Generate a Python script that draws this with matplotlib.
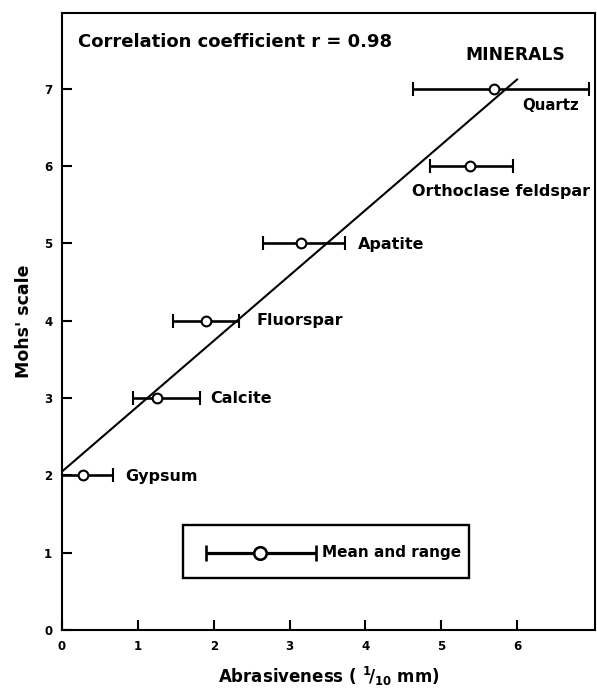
import matplotlib
matplotlib.use("Agg")
import matplotlib.pyplot as plt

# Abrasiveness (1/10 mm) against Mohs' hardness for each mineral.
minerals = ["Gypsum", "Calcite", "Fluorspar", "Apatite", "Orthoclase feldspar", "Quartz"]
mohs = [2, 3, 4, 5, 6, 7]
abr_mean = [0.28, 1.25, 1.90, 3.15, 5.38, 5.70]
abr_low = [0.0, 0.94, 1.46, 2.65, 4.85, 4.63]
abr_high = [0.67, 1.82, 2.34, 3.73, 5.95, 6.95]

# Label anchor points (x, y) in data units, beside each bar.
label_x = [0.83, 1.95, 2.57, 3.90, 4.62, 6.07]
label_y = [1.98, 3.0, 4.0, 4.99, 5.67, 6.79]
label_size = [11.5, 11.5, 11.5, 11.5, 11.5, 10.8]

# Fitted line, r = 0.98.
fit_x = [0.0, 6.0]
fit_y = [2.05, 7.12]

# Key entry.
key_mean, key_low, key_high, key_y = 2.61, 1.90, 3.35, 1.0

plt.rcParams["font.family"] = ["DejaVu Sans"]
plt.rcParams["mathtext.default"] = "bf"

fig = plt.figure(figsize=(5.97, 6.89), dpi=100)
ax = fig.add_axes([0.1039, 0.0856, 0.893, 0.8955])

ax.plot(fit_x, fit_y, color="black", lw=1.5, zorder=2)

xerr = [[m - lo for m, lo in zip(abr_mean, abr_low)],
        [hi - m for m, hi in zip(abr_mean, abr_high)]]
ax.errorbar(abr_mean, mohs, xerr=xerr, fmt="o", ms=7, mfc="white", mec="black",
            mew=1.5, ecolor="black", elinewidth=1.9, capsize=5, capthick=1.9,
            color="black", zorder=3)

for name, x, y, fs in zip(minerals, label_x, label_y, label_size):
    ax.text(x, y, name, fontsize=fs, fontweight="bold", va="center", ha="left")

ax.text(0.21, 7.61, "Correlation coefficient r = 0.98", fontsize=13,
        fontweight="bold", va="center")
ax.text(5.32, 7.44, "MINERALS", fontsize=12.3, fontweight="bold", va="center")

# Key box with a sample mean/range bar.
ax.add_patch(plt.Rectangle((1.60, 0.67), 3.76, 0.69, fill=False, lw=1.7,
                           edgecolor="black", zorder=2))
ax.errorbar([key_mean], [key_y], xerr=[[key_mean - key_low], [key_high - key_mean]],
            fmt="o", ms=9, mfc="white", mec="black", mew=1.9, ecolor="black",
            elinewidth=2.3, capsize=6, capthick=2.3, zorder=3)
ax.text(3.43, key_y, "Mean and range", fontsize=11, fontweight="bold", va="center")

ax.set_xlim(0, 7.03)
ax.set_ylim(0, 7.98)
ax.set_xticks(range(0, 7))
ax.set_yticks(range(0, 8))
ax.tick_params(direction="in", length=7, width=1.5, labelsize=8.5, pad=7)
for lbl in ax.get_xticklabels() + ax.get_yticklabels():
    lbl.set_fontweight("bold")
for sp in ax.spines.values():
    sp.set_linewidth(1.5)

ax.set_xlabel(r"Abrasiveness ( $^{1}\!/_{10}$ mm)", fontsize=12,
              fontweight="bold", labelpad=9)
ax.set_ylabel("Mohs' scale", fontsize=12.5, fontweight="bold", labelpad=8)

fig.savefig("out.png", dpi=100)
